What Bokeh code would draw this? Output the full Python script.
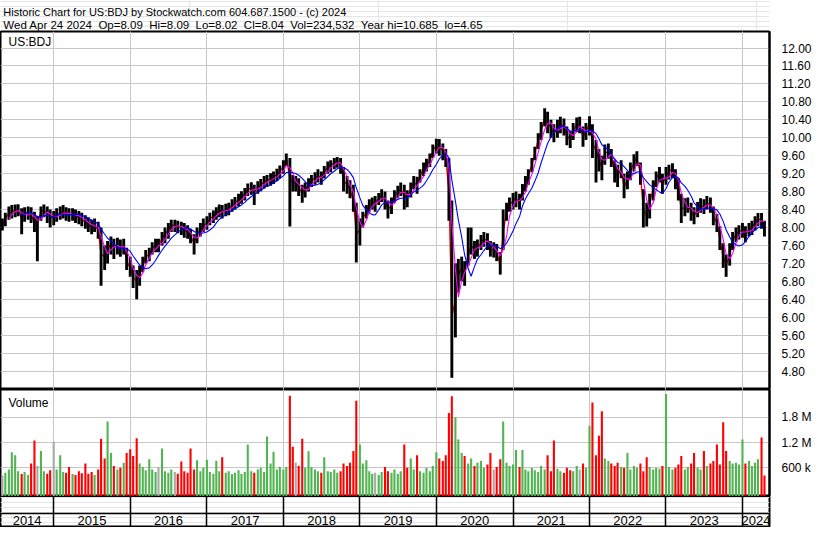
import numpy as np
import pandas as pd
from bokeh.plotting import figure
from bokeh.models import ColumnDataSource, Range1d, FixedTicker, Grid, Label
from bokeh.layouts import column
from bokeh.embed import file_html
from bokeh.resources import INLINE
from bokeh.core.properties import value

FONT = "Liberation Sans"
NB = "\u00a0"

# ---------------- texts ----------------
title_line1 = "Historic Chart for US:BDJ by Stockwatch.com 604.687.1500 - (c) 2024"
title_line2 = ("Wed Apr 24 2024 " + NB + "Op=8.09 " + NB + "Hi=8.09 " + NB + "Lo=8.02 " + NB +
               "Cl=8.04 " + NB + "Vol=234,532 " + NB + "Year hi=10.685 " + NB + "lo=4.65")
symbol_label = "US:BDJ"
volume_label = "Volume"

price_ticks = [4.80, 5.20, 5.60, 6.00, 6.40, 6.80, 7.20, 7.60, 8.00, 8.40,
               8.80, 9.20, 9.60, 10.00, 10.40, 10.80, 11.20, 11.60, 12.00]
price_tick_labels = ["4.80", "5.20", "5.60", "6.00", "6.40", "6.80", "7.20", "7.60", "8.00", "8.40",
                     "8.80", "9.20", "9.60", "10.00", "10.40", "10.80", "11.20", "11.60", "12.00"]
volume_ticks = [600, 1200, 1800]            # thousands of shares
volume_tick_labels = ["600 k", "1.2 M", "1.8 M"]
years = [2014, 2015, 2016, 2017, 2018, 2019, 2020, 2021, 2022, 2023, 2024]
year_labels = ["2014", "2015", "2016", "2017", "2018", "2019", "2020", "2021", "2022", "2023", "2024"]

# ---------------- data: half-monthly bars, May 2014 .. Apr 2024 ----------------
first_date = "2014-05-01"
last_date = "2024-04-15"

close = [
    8.05, 8.20, 8.32, 8.35, 8.38, 8.40, 8.20, 8.30, 8.35, 8.28, 8.10, 8.10, 8.35, 8.38, 8.30, 8.22,
    8.22, 8.28, 8.32, 8.35, 8.30, 8.28, 8.30, 8.26, 8.22, 8.18, 8.12, 8.05, 8.02, 8.05, 7.95, 7.40, 7.35, 7.50, 7.65, 7.55, 7.60, 7.55, 7.60, 7.25,
    7.10, 6.90, 6.80, 6.95, 7.20, 7.35, 7.40, 7.55, 7.60, 7.60, 7.75, 7.85, 7.95, 8.05, 8.05, 8.02, 8.00, 7.95, 7.90, 7.80, 7.65, 7.85, 7.95, 8.05,
    8.10, 8.20, 8.25, 8.32, 8.38, 8.35, 8.40, 8.42, 8.50, 8.55, 8.62, 8.68, 8.75, 8.85, 8.88, 8.80, 8.90, 8.95, 9.02, 9.05, 9.08, 9.12, 9.18, 9.25,
    9.35, 9.55, 9.10, 9.00, 9.00, 8.90, 8.75, 8.85, 8.95, 9.05, 9.10, 9.15, 9.10, 9.25, 9.35, 9.38, 9.45, 9.48, 9.40, 9.05, 8.95, 8.85, 8.60, 7.85,
    7.95, 8.20, 8.35, 8.50, 8.55, 8.55, 8.65, 8.72, 8.60, 8.40, 8.50, 8.70, 8.80, 8.85, 8.70, 8.65, 8.85, 9.00, 8.95, 9.15, 9.30, 9.40, 9.50, 9.70,
    9.85, 9.80, 9.70, 9.55, 8.80, 6.00, 6.40, 6.95, 7.10, 6.95, 7.40, 7.60, 7.50, 7.55, 7.65, 7.75, 7.70, 7.50, 7.50, 7.45, 7.15, 7.90, 8.35, 8.50,
    8.60, 8.65, 8.55, 8.80, 9.00, 9.15, 9.40, 9.65, 9.95, 10.15, 10.45, 10.35, 10.20, 10.10, 10.20, 10.30, 10.25, 10.05, 9.95, 10.15, 10.30, 10.30, 10.00, 10.15,
    10.30, 9.90, 9.70, 9.50, 9.35, 9.65, 9.70, 9.55, 9.25, 9.15, 9.30, 8.90, 9.05, 9.25, 9.45, 9.55, 9.20, 8.40, 8.25, 8.55, 8.85, 9.10, 9.20, 8.95,
    9.15, 9.25, 9.30, 9.05, 8.85, 8.40, 8.45, 8.50, 8.35, 8.25, 8.40, 8.50, 8.45, 8.55, 8.50, 8.25, 8.10, 7.75, 7.35, 7.15, 7.40, 7.70, 7.85, 7.90,
    7.95, 7.85, 7.95, 8.00, 8.10, 8.20, 8.15, 8.04,
]
high = [
    8.20, 8.33, 8.47, 8.50, 8.51, 8.52, 8.43, 8.45, 8.47, 8.45, 8.35, 8.25, 8.47, 8.51, 8.47, 8.40,
    8.37, 8.43, 8.47, 8.50, 8.45, 8.43, 8.43, 8.40, 8.37, 8.33, 8.27, 8.23, 8.17, 8.20, 8.13, 8.00, 7.60, 7.70, 7.80, 7.75, 7.77, 7.73, 7.75, 7.55,
    7.35, 7.15, 7.05, 7.15, 7.35, 7.50, 7.55, 7.67, 7.75, 7.75, 7.90, 8.00, 8.10, 8.17, 8.17, 8.15, 8.13, 8.10, 8.05, 7.97, 7.85, 8.00, 8.10, 8.20,
    8.25, 8.33, 8.38, 8.45, 8.51, 8.50, 8.53, 8.55, 8.63, 8.68, 8.75, 8.81, 8.88, 8.98, 9.01, 8.95, 9.03, 9.08, 9.15, 9.17, 9.21, 9.25, 9.31, 9.38,
    9.50, 9.65, 9.55, 9.17, 9.15, 9.10, 8.95, 9.00, 9.10, 9.17, 9.23, 9.30, 9.25, 9.37, 9.47, 9.50, 9.55, 9.57, 9.55, 9.35, 9.15, 9.05, 8.95, 8.55,
    8.20, 8.35, 8.50, 8.63, 8.67, 8.70, 8.77, 8.85, 8.80, 8.60, 8.67, 8.83, 8.93, 9.00, 8.95, 8.83, 9.00, 9.15, 9.13, 9.30, 9.45, 9.53, 9.65, 9.85,
    9.98, 9.97, 9.87, 9.75, 9.55, 8.60, 7.20, 7.30, 7.35, 7.25, 8.00, 8.00, 7.70, 7.73, 7.83, 7.90, 7.87, 7.70, 7.67, 7.63, 7.45, 8.40, 8.55, 8.67,
    8.77, 8.80, 8.75, 8.97, 9.15, 9.30, 9.55, 9.80, 10.10, 10.35, 10.66, 10.58, 10.40, 10.30, 10.40, 10.47, 10.43, 10.25, 10.15, 10.33, 10.45, 10.47, 10.25, 10.33,
    10.48, 10.30, 9.95, 9.75, 9.60, 9.85, 9.87, 9.75, 9.50, 9.40, 9.50, 9.20, 9.25, 9.45, 9.63, 9.70, 9.45, 8.85, 8.55, 8.75, 9.05, 9.25, 9.35, 9.20,
    9.35, 9.40, 9.43, 9.30, 9.10, 8.75, 8.65, 8.67, 8.55, 8.45, 8.57, 8.65, 8.63, 8.70, 8.67, 8.47, 8.30, 8.03, 7.65, 7.40, 7.65, 7.90, 8.00, 8.05,
    8.10, 8.03, 8.10, 8.15, 8.25, 8.32, 8.32, 8.15,
]
low = [
    7.93, 8.03, 8.17, 8.20, 8.23, 8.25, 7.85, 8.13, 8.17, 8.10, 7.90, 7.25, 8.15, 8.23, 8.10, 8.00,
    8.05, 8.13, 8.17, 8.20, 8.15, 8.13, 8.15, 8.10, 8.07, 8.03, 7.97, 7.90, 7.85, 7.90, 7.75, 6.70, 7.05, 7.20, 7.40, 7.30, 7.40, 7.35, 7.40, 7.05,
    6.90, 6.65, 6.40, 6.70, 7.00, 7.20, 7.25, 7.40, 7.45, 7.45, 7.60, 7.65, 7.75, 7.90, 7.90, 7.87, 7.83, 7.77, 7.75, 7.65, 7.40, 7.65, 7.80, 7.90,
    7.95, 8.05, 8.10, 8.17, 8.23, 8.20, 8.25, 8.27, 8.35, 8.40, 8.47, 8.53, 8.60, 8.70, 8.73, 8.50, 8.75, 8.81, 8.87, 8.90, 8.93, 8.97, 9.03, 9.10,
    9.20, 9.37, 8.02, 8.80, 8.80, 8.70, 8.55, 8.67, 8.80, 8.90, 8.95, 9.00, 8.95, 9.10, 9.20, 9.23, 9.30, 9.33, 9.20, 8.80, 8.75, 8.65, 8.35, 7.22,
    7.60, 8.00, 8.20, 8.35, 8.40, 8.35, 8.50, 8.57, 8.40, 8.20, 8.30, 8.55, 8.65, 8.70, 8.40, 8.45, 8.67, 8.85, 8.75, 9.00, 9.15, 9.25, 9.35, 9.55,
    9.65, 9.60, 9.50, 9.35, 8.15, 4.65, 5.55, 6.55, 6.80, 6.70, 7.15, 7.40, 7.30, 7.35, 7.50, 7.57, 7.50, 7.35, 7.33, 7.25, 6.95, 7.50, 8.15, 8.35,
    8.40, 8.45, 8.40, 8.60, 8.80, 8.95, 9.23, 9.50, 9.75, 9.95, 10.25, 10.10, 10.00, 9.90, 10.00, 10.10, 10.05, 9.83, 9.77, 9.95, 10.13, 10.10, 9.80, 9.95,
    10.05, 9.55, 9.00, 9.25, 9.05, 9.40, 9.53, 9.35, 9.00, 8.90, 9.10, 8.65, 8.85, 9.05, 9.25, 9.37, 8.95, 8.00, 8.02, 8.20, 8.60, 8.90, 9.00, 8.75,
    8.95, 9.07, 9.10, 8.85, 8.60, 8.10, 8.25, 8.33, 8.15, 8.07, 8.23, 8.33, 8.30, 8.40, 8.33, 8.05, 7.90, 7.50, 7.10, 6.90, 7.15, 7.50, 7.67, 7.73,
    7.77, 7.67, 7.80, 7.83, 7.93, 8.03, 7.97, 7.80,
]
volume_k = [
    420, 480, 560, 970, 900, 520, 450, 500, 430, 700, 1250, 640, 1000, 520, 460, 540,
    1220, 560, 900, 500, 480, 620, 450, 430, 520, 470, 700, 460, 500, 430, 560, 1290, 820, 1700, 950, 640, 560, 600, 720, 950,
    1040, 880, 1300, 700, 620, 540, 800, 560, 500, 620, 1060, 520, 480, 560, 500, 460, 750, 520, 480, 1060, 560, 780, 520, 600,
    790, 500, 460, 770, 520, 850, 480, 520, 450, 480, 540, 460, 500, 1150, 520, 480, 560, 600, 500, 1340, 700, 980, 560, 620,
    560, 620, 2310, 1100, 720, 650, 1290, 600, 990, 620, 560, 520, 480, 850, 520, 500, 560, 480, 520, 700, 640, 720, 1000, 2190,
    1150, 700, 780, 520, 460, 480, 430, 500, 620, 520, 480, 560, 450, 520, 1150, 600, 820, 560, 900, 520, 480, 600, 520, 640,
    970, 820, 760, 900, 1900, 2300, 1800, 1270, 950, 880, 700, 820, 640, 720, 760, 600, 680, 950, 560, 620, 800, 1700, 720, 640,
    680, 1020, 620, 1020, 560, 520, 600, 540, 500, 640, 560, 900, 520, 1250, 580, 520, 480, 600, 540, 520, 640, 560, 700, 600,
    1600, 2150, 900, 1360, 1940, 820, 760, 700, 640, 720, 620, 600, 950, 560, 640, 600, 700, 520, 850, 620, 560, 600, 580, 640,
    2350, 620, 560, 600, 680, 880, 560, 620, 700, 950, 600, 560, 1000, 640, 700, 760, 1150, 680, 1680, 1000, 760, 700, 720, 680,
    1270, 700, 760, 640, 720, 800, 1320, 420,
]

# ---------------- derived ----------------
start, stop = pd.Timestamp(first_date), pd.Timestamp(last_date)
dates = [pd.Timestamp(y, m, d) for y in range(2014, 2025) for m in range(1, 13) for d in (1, 15)]
dates = [d for d in dates if start <= d <= stop]
assert len(dates) == len(close) == len(high) == len(low) == len(volume_k)

cs = pd.Series(close)
ma_mid = cs.rolling(3).mean()
ma_long = cs.rolling(7).mean()

RED, GREEN, GRAY = "#ff0000", "#50b450", "#a8a8a8"
chg = np.diff(np.array(close), prepend=close[0])
vcolor = [GREEN if c > 0.004 else (RED if c < -0.004 else GRAY) for c in chg]

src = ColumnDataSource(dict(date=dates, close=close, high=high, low=low,
                            ma_mid=ma_mid, ma_long=ma_long,
                            vol=volume_k, vcolor=vcolor))

W = 814
RIGHT = 44
x_start, x_end = pd.Timestamp("2014-04-22"), pd.Timestamp("2024-05-09")
xr = Range1d(x_start, x_end)
year_bounds = [pd.Timestamp(y, 1, 1).value / 1e6 for y in years[1:]]
GRID = "#c8c8c8"


def style_axis(ax):
    ax.major_tick_line_color = None
    ax.minor_tick_line_color = None
    ax.axis_line_color = "black"
    ax.axis_line_width = 2
    ax.major_label_text_font = FONT
    ax.major_label_text_font_size = "12px"
    ax.major_label_text_color = "black"
    ax.major_label_standoff = 6


# ---------------- title strip ----------------
t = figure(width=W, height=31, x_range=Range1d(0, W), y_range=Range1d(0, 31),
           output_backend="svg", toolbar_location=None, tools="", min_border=0,
           x_axis_location=None, y_axis_location=None, outline_line_color=None)
t.text(x=[3], y=[20], text=[title_line1], text_font=value(FONT),
       text_font_size="11px", text_baseline="alphabetic", text_align="left", text_color="black")
t.text(x=[3], y=[7], text=[title_line2], text_font=value(FONT),
       text_font_size="11.5px", text_baseline="alphabetic", text_align="left", text_color="black")
t.segment(x0=[0], y0=[0.5], x1=[W], y1=[0.5], line_color="black", line_width=1)

# ---------------- price panel ----------------
p = figure(width=W, height=358, x_range=xr, y_range=Range1d(4.389, 12.368),
           output_backend="svg", toolbar_location=None, tools="", min_border=0,
           min_border_right=RIGHT, x_axis_location=None, y_axis_location="right")
p.outline_line_color = "black"
p.outline_line_width = 2
style_axis(p.yaxis[0])
p.yaxis[0].ticker = FixedTicker(ticks=price_ticks)
p.yaxis[0].major_label_overrides = dict(zip(price_ticks, price_tick_labels))
p.ygrid.ticker = FixedTicker(ticks=price_ticks)
p.ygrid.grid_line_color = GRID
p.add_layout(Grid(dimension=0, ticker=FixedTicker(ticks=year_bounds), grid_line_color=GRID))

p.line("date", "close", source=src, line_color=RED, line_width=1.3)
p.segment(x0="date", y0="low", x1="date", y1="high", source=src, line_color="black", line_width=2.9)
p.line("date", "ma_mid", source=src, line_color="#ff00ff", line_width=1.1)
p.line("date", "ma_long", source=src, line_color="#0000ff", line_width=1.1)
p.add_layout(Label(x=8, y=348, x_units="screen", y_units="screen", text=symbol_label,
                   text_font=FONT, text_font_size="12px", text_baseline="middle", text_color="black"))

# ---------------- volume panel ----------------
VOL_FLOOR = -81
v = figure(width=W, height=107, x_range=xr, y_range=Range1d(VOL_FLOOR, 2458),
           output_backend="svg", toolbar_location=None, tools="", min_border=0,
           min_border_right=RIGHT, x_axis_location=None, y_axis_location="right")
v.outline_line_color = "black"
v.outline_line_width = 2
style_axis(v.yaxis[0])
v.yaxis[0].ticker = FixedTicker(ticks=volume_ticks)
v.yaxis[0].major_label_overrides = dict(zip(volume_ticks, volume_tick_labels))
v.ygrid.ticker = FixedTicker(ticks=volume_ticks)
v.ygrid.grid_line_color = GRID
v.add_layout(Grid(dimension=0, ticker=FixedTicker(ticks=year_bounds), grid_line_color=GRID))
v.vbar(x="date", top="vol", bottom=VOL_FLOOR, width=10 * 86400000, source=src,
       fill_color="vcolor", line_color=None)
v.add_layout(Label(x=8, y=94, x_units="screen", y_units="screen", text=volume_label,
                   text_font=FONT, text_font_size="12px", text_baseline="middle", text_color="black"))

# ---------------- year band ----------------
yb = figure(width=W, height=31, x_range=xr, y_range=Range1d(0, 31),
            output_backend="svg", toolbar_location=None, tools="", min_border=0,
            min_border_right=RIGHT, x_axis_location=None, y_axis_location=None)
yb.outline_line_color = "black"
yb.outline_line_width = 2
yb.add_layout(Grid(dimension=0, ticker=FixedTicker(ticks=year_bounds), grid_line_color="black",
                   grid_line_width=1.5))
yb.add_layout(Grid(dimension=1, ticker=FixedTicker(ticks=[14]), grid_line_color="black",
                   grid_line_width=1.5))
label_x = []
for yv in years:
    a = max(pd.Timestamp(yv, 1, 1), x_start)
    b = min(pd.Timestamp(yv + 1, 1, 1), x_end)
    label_x.append(a + (b - a) / 2)
yb.text(x=label_x, y=[7] * len(label_x), text=year_labels, text_font=value(FONT),
        text_font_size="13px", text_align="center", text_baseline="middle", text_color="black")

layout = column(t, p, v, yb, spacing=0)
open("out.html", "w").write(file_html(layout, INLINE))
